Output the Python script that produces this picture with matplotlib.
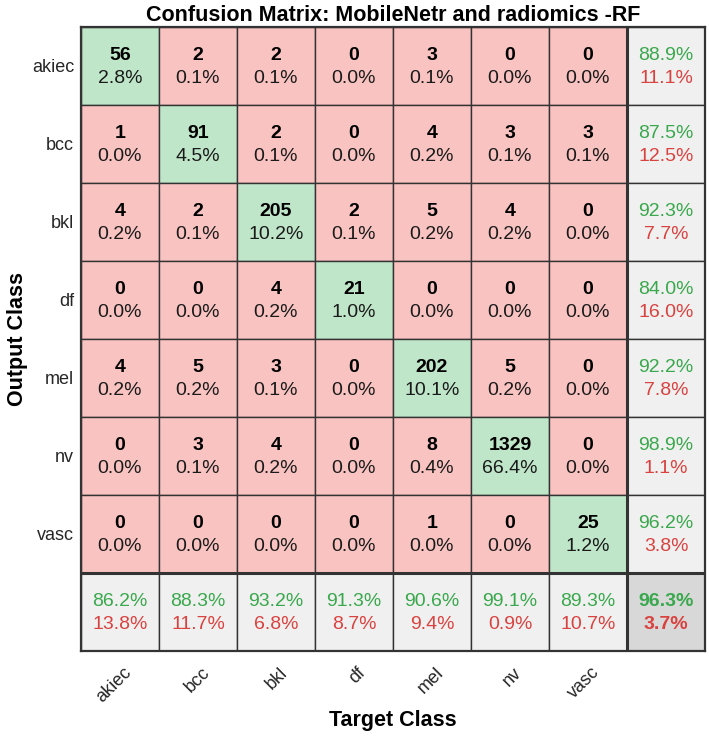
import numpy as np
import matplotlib
matplotlib.use("Agg")
import matplotlib.pyplot as plt
from matplotlib.patches import Rectangle
from matplotlib.transforms import ScaledTranslation, blended_transform_factory

plt.rcParams['font.family'] = ['Liberation Sans', 'DejaVu Sans']

# class names and confusion counts (rows = output, cols = target)
classes = ['akiec', 'bcc', 'bkl', 'df', 'mel', 'nv', 'vasc']
counts = np.array([
    [56, 2, 2, 0, 3, 0, 0],
    [1, 91, 2, 0, 4, 3, 3],
    [4, 2, 205, 2, 5, 4, 0],
    [0, 0, 4, 21, 0, 0, 0],
    [4, 5, 3, 0, 202, 5, 0],
    [0, 3, 4, 0, 8, 1329, 0],
    [0, 0, 0, 0, 1, 0, 25],
])

green_bg = '#bfe6c9'
red_bg = '#f8c3c0'
gray_bg = '#f0f0f0'
corner_bg = '#d8d8d8'
green_txt = '#3aa84c'
red_txt = '#d9423f'
edge = '#333333'
fs = 14

n = len(classes)
total = counts.sum()
row_tot = counts.sum(axis=1)
col_tot = counts.sum(axis=0)
diag = np.diag(counts)

fig = plt.figure(figsize=(7.09, 7.41), dpi=100)
ax = fig.add_axes([81 / 709, 90 / 741, 624 / 709, 624 / 741])
ax.set_xlim(-0.5, n + 0.5)
ax.set_ylim(n + 0.5, -0.5)

def cell(c, r, color, lw=1.0):
    ax.add_patch(Rectangle((c - 0.5, r - 0.5), 1, 1, facecolor=color,
                           edgecolor=edge, linewidth=lw, zorder=1))

def two_lines(c, r, top, bottom, c1, c2, weight1='normal', weight2='normal'):
    ax.text(c, r - 0.13, top, ha='center', va='center', fontsize=fs,
            fontweight=weight1, color=c1, zorder=3)
    ax.text(c, r + 0.16, bottom, ha='center', va='center', fontsize=fs,
            fontweight=weight2, color=c2, zorder=3)

for r in range(n):
    for c in range(n):
        cell(c, r, green_bg if r == c else red_bg)
        two_lines(c, r, str(counts[r, c]),
                  '%.1f%%' % (100 * counts[r, c] / total),
                  'black', '#1a1a1a', weight1='bold')

# summary column (precision per output class)
for r in range(n):
    cell(n, r, gray_bg)
    p = 100 * diag[r] / row_tot[r]
    two_lines(n, r, '%.1f%%' % p, '%.1f%%' % (100 - p), green_txt, red_txt)

# summary row (recall per target class)
for c in range(n):
    cell(c, n, gray_bg)
    p = 100 * diag[c] / col_tot[c]
    two_lines(c, n, '%.1f%%' % p, '%.1f%%' % (100 - p), green_txt, red_txt)

# overall accuracy
cell(n, n, corner_bg)
acc = 100 * diag.sum() / total
two_lines(n, n, '%.1f%%' % acc, '%.1f%%' % (100 - acc), green_txt, red_txt,
          'bold', 'bold')

# thicker separators
ax.plot([n - 0.5, n - 0.5], [-0.5, n + 0.5], color=edge, lw=2.2, zorder=2)
ax.plot([-0.5, n + 0.5], [n - 0.5, n - 0.5], color=edge, lw=2.2, zorder=2)
for s in ax.spines.values():
    s.set_linewidth(1.6)
    s.set_color(edge)

# rotated x labels (matlab style, anchored right of the column centre)
ax.set_xticks([])
trans = blended_transform_factory(ax.transData, ax.transAxes) + \
    ScaledTranslation(9 / 100, -19 / 100, fig.dpi_scale_trans)
for i, name in enumerate(classes):
    ax.text(i, 0, name, transform=trans, rotation=45, ha='right',
            va='center', rotation_mode='anchor', fontsize=13, color='#262626')

ax.set_yticks(range(n))
ax.set_yticklabels(classes, fontsize=13, color='#262626')
ax.tick_params(length=0, pad=5)

ax.set_title('Confusion Matrix: MobileNetr and radiomics -RF',
             fontsize=15.5, fontweight='bold', pad=4)
ax.set_xlabel('Target Class', fontsize=15.5, fontweight='bold')
ax.xaxis.set_label_coords(0.5, -59 / 624)
ax.set_ylabel('Output Class', fontsize=15.5, fontweight='bold', labelpad=3)

fig.savefig('out.png', dpi=100)
